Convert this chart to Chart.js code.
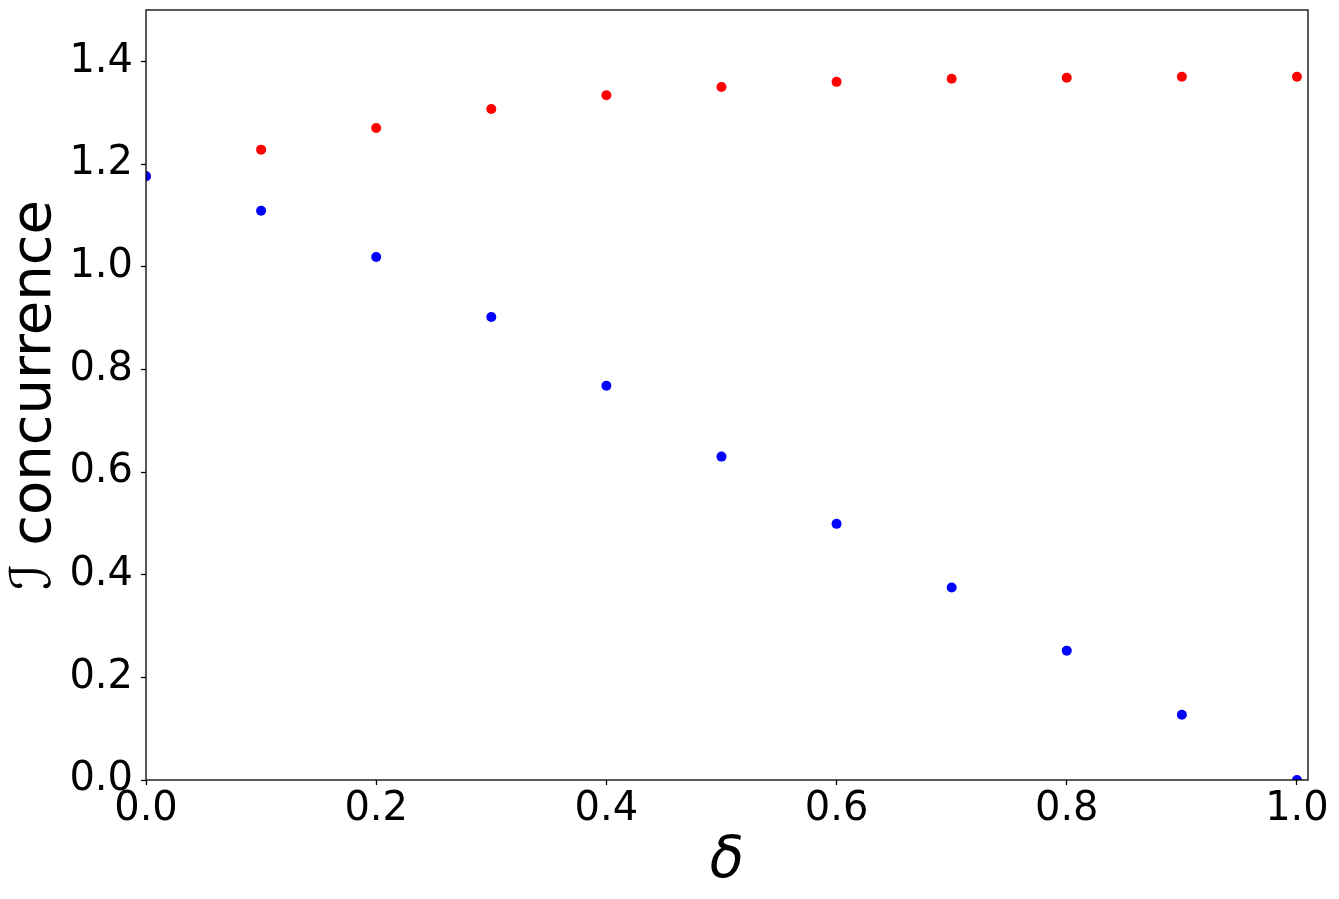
<!DOCTYPE html>
<html>
<head>
<meta charset="utf-8">
<script src="https://cdn.jsdelivr.net/npm/chart.js@4/dist/chart.umd.min.js"></script>
<style>
  html, body { margin: 0; padding: 0; background: #fff; }
  #wrap { width: 1339px; height: 899px; }
</style>
</head>
<body>
<div id="wrap"><canvas id="concurrence"></canvas></div>
<script>
var deltas = [0.0, 0.1, 0.2, 0.3, 0.4, 0.5, 0.6, 0.7, 0.8, 0.9, 1.0];
var upperSeries = [1.176, 1.228, 1.270, 1.307, 1.334, 1.350, 1.360, 1.366, 1.368, 1.370, 1.370];
var lowerSeries = [1.176, 1.109, 1.019, 0.902, 0.768, 0.630, 0.499, 0.375, 0.252, 0.127, 0.0];
var xTicks = [0.0, 0.2, 0.4, 0.6, 0.8, 1.0];
var yTicks = [0.0, 0.2, 0.4, 0.6, 0.8, 1.0, 1.2, 1.4];

function toPoints(values) {
    return deltas.map((d, i) => ({x: d, y: values[i]}));
}

// matplotlib style full frame around the plot area
const frame = {
    id: 'frame',
    afterDatasetsDraw(chart) {
        const a = chart.chartArea;
        const ctx = chart.ctx;
        ctx.save();
        ctx.strokeStyle = '#000';
        ctx.lineWidth = 1.3;
        ctx.strokeRect(a.left, a.top, a.right - a.left, a.bottom - a.top);
        ctx.restore();
    }
};

const tickFont = {family: 'DejaVu Sans', size: 40};

const config = {
    type: 'scatter',
    data: {
        datasets: [
            {
                label: 'lower',
                data: toPoints(lowerSeries),
                backgroundColor: '#0000ff',
                borderWidth: 0,
                pointRadius: 5,
                clip: 0
            },
            {
                label: 'upper',
                data: toPoints(upperSeries),
                backgroundColor: '#ff0000',
                borderWidth: 0,
                pointRadius: 5,
                clip: 0
            }
        ]
    },
    options: {
        responsive: true,
        maintainAspectRatio: false,
        animation: false,
        devicePixelRatio: 1,
        layout: {padding: {top: 10, right: 31, left: 0, bottom: 0}},
        plugins: {
            legend: {display: false},
            tooltip: {enabled: false}
        },
        scales: {
            x: {
                type: 'linear',
                min: 0,
                max: 1.0096,
                afterBuildTicks: axis => { axis.ticks = xTicks.map(v => ({value: v})); },
                afterFit: axis => {
                    axis.height = 119;
                    axis.paddingLeft = 0;
                    axis.paddingRight = 0;
                },
                border: {display: false},
                grid: {drawOnChartArea: false, drawTicks: true, tickLength: 5, tickColor: '#000', tickWidth: 1.3},
                ticks: {
                    color: '#000',
                    font: tickFont,
                    padding: 1,
                    maxRotation: 0,
                    callback: v => v.toFixed(1)
                },
                title: {
                    display: true,
                    text: 'δ',
                    color: '#000',
                    font: {family: 'DejaVu Sans', size: 56, style: 'italic'},
                    padding: {top: 0, bottom: 3}
                }
            },
            y: {
                type: 'linear',
                min: 0,
                max: 1.5,
                afterBuildTicks: axis => { axis.ticks = yTicks.map(v => ({value: v})); },
                afterFit: axis => {
                    axis.width = 146;
                    axis.paddingTop = 0;
                    axis.paddingBottom = 0;
                },
                border: {display: false},
                grid: {drawOnChartArea: false, drawTicks: true, tickLength: 5, tickColor: '#000', tickWidth: 1.3},
                ticks: {
                    color: '#000',
                    font: tickFont,
                    padding: 8,
                    callback: v => v.toFixed(1)
                },
                title: {
                    display: true,
                    text: 'ℐ concurrence',
                    color: '#000',
                    font: {family: 'DejaVu Sans', size: 56},
                    padding: {top: 2, bottom: 0}
                }
            }
        }
    },
    plugins: [frame]
};

const graphic = new Chart(document.getElementById('concurrence'), config);
</script>
</body>
</html>
